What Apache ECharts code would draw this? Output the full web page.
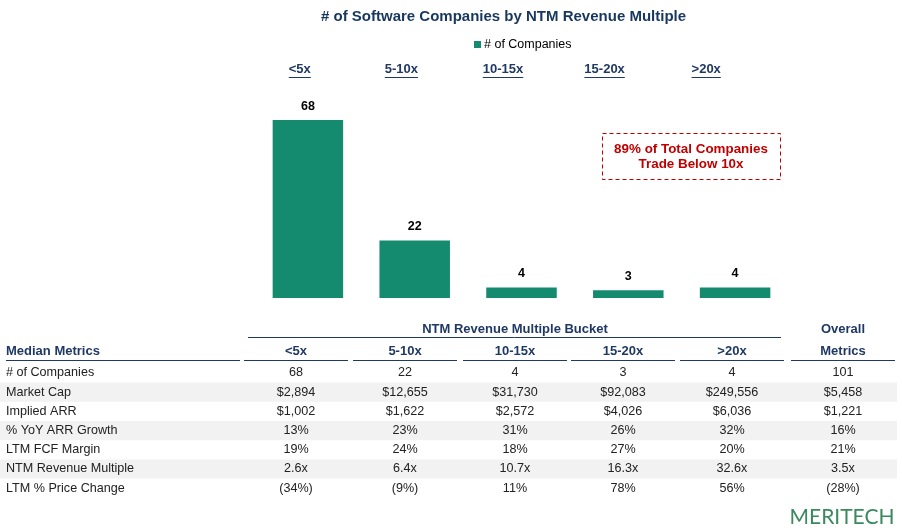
<!DOCTYPE html>
<html>
<head>
<meta charset="utf-8">
<script src="https://cdn.jsdelivr.net/npm/echarts@6/dist/echarts.min.js"></script>
<style>
  html, body { margin: 0; padding: 0; background: #fff; }
  #chart { width: 902px; height: 531px; }
</style>
</head>
<body>
<div id="chart"></div>
<script>
// data
var buckets = ['<5x', '5-10x', '10-15x', '15-20x', '>20x'];
var companyCounts = [68, 22, 4, 3, 4];

var metricNames = ['# of Companies', 'Market Cap', 'Implied ARR', '% YoY ARR Growth',
  'LTM FCF Margin', 'NTM Revenue Multiple', 'LTM % Price Change'];
var bucketMetrics = [
  ['68', '22', '4', '3', '4'],
  ['$2,894', '$12,655', '$31,730', '$92,083', '$249,556'],
  ['$1,002', '$1,622', '$2,572', '$4,026', '$6,036'],
  ['13%', '23%', '31%', '26%', '32%'],
  ['19%', '24%', '18%', '27%', '20%'],
  ['2.6x', '6.4x', '10.7x', '16.3x', '32.6x'],
  ['(34%)', '(9%)', '11%', '78%', '56%']
];
var overallMetrics = ['101', '$5,458', '$1,221', '16%', '21%', '3.5x', '(28%)'];

var navy = '#1f3864';
var green = '#148a6e';
var red = '#c00000';
var font = 'Liberation Sans, Arial, sans-serif';

var chart = echarts.init(document.getElementById('chart'));

var option = {
  animation: false,
  title: {
    text: '# of Software Companies by NTM Revenue Multiple',
    left: 316,
    top: 4,
    textStyle: { fontFamily: font, fontSize: 15, fontWeight: 'bold', color: '#17375e' }
  },
  legend: {
    data: ['# of Companies'],
    left: 469,
    top: 33,
    icon: 'rect',
    itemWidth: 7,
    itemHeight: 7,
    itemGap: 4,
    textStyle: { fontFamily: font, fontSize: 12.5, color: '#000', padding: [0, 0, 0, -2] }
  },
  grid: [
    { left: 254.5, right: 113.5, top: 88.6, bottom: 233 },
    { left: 249, width: 508, top: 80, height: 1 }
  ],
  xAxis: [
    {
      type: 'category', gridIndex: 0, data: buckets,
      axisLine: { show: false }, axisTick: { show: false }, axisLabel: { show: false }
    },
    {
      type: 'category', gridIndex: 1, data: buckets, position: 'top',
      axisLine: { show: false }, axisTick: { show: false },
      axisLabel: {
        margin: 4, fontFamily: font, fontSize: 13, fontWeight: 'bold', color: navy
      }
    }
  ],
  yAxis: [
    { type: 'value', gridIndex: 0, min: 0, max: 80, show: false, splitLine: { show: false } },
    { type: 'value', gridIndex: 1, show: false, splitLine: { show: false } }
  ],
  series: [{
    name: '# of Companies',
    type: 'bar',
    data: companyCounts,
    barWidth: '66%',
    itemStyle: { color: green },
    label: {
      show: true, position: 'top', distance: 7,
      fontFamily: font, fontSize: 12.5, fontWeight: 'bold', color: '#000'
    }
  }]
};

chart.setOption(option);

// table + annotations
var colCenters = [296, 405, 515, 623, 732, 843];
var rowTop = 373, rowStep = 19.2;
var g = [];

function txt(s, x, y, opts) {
  opts = opts || {};
  g.push({
    type: 'text', z: 10,
    style: {
      text: s, x: x, y: y,
      align: opts.align || 'center', verticalAlign: 'middle',
      font: (opts.bold ? 'bold ' : '') + (opts.size || 12.6) + 'px ' + (opts.family || font),
      fill: opts.color || '#222'
    }
  });
}
function line(x1, y1, x2, y2, color, w) {
  g.push({
    type: 'line', z: 10,
    shape: { x1: x1, y1: y1, x2: x2, y2: y2 },
    style: { stroke: color || navy, lineWidth: w || 1 }
  });
}

// shaded rows
metricNames.forEach(function (m, i) {
  if (i % 2 === 1) {
    g.push({
      type: 'rect', z: 1,
      shape: { x: 0, y: rowTop + i * rowStep - 9.6, width: 897, height: 19.2 },
      style: { fill: '#f2f2f2' }
    });
  }
});

// header
txt('NTM Revenue Multiple Bucket', 515, 329, { bold: true, color: navy, size: 13 });
line(248, 337.5, 781, 337.5);
txt('Overall', 843, 329, { bold: true, color: navy, size: 13 });
txt('Median Metrics', 6, 351, { bold: true, color: navy, align: 'left', size: 13 });
line(6, 360.5, 240, 360.5);
buckets.concat(['Metrics']).forEach(function (b, j) {
  txt(b, colCenters[j], 351, { bold: true, color: navy, size: 13 });
  line(colCenters[j] - 52, 360.5, colCenters[j] + 52, 360.5);
});

// rows
metricNames.forEach(function (m, i) {
  var y = rowTop + i * rowStep;
  txt(m, 6, y, { align: 'left' });
  bucketMetrics[i].forEach(function (v, j) {
    txt(v, colCenters[j], y);
  });
  txt(overallMetrics[i], colCenters[5], y);
});

// underline the bucket labels above the chart
var ctx = document.createElement('canvas').getContext('2d');
ctx.font = 'bold 13px ' + font;
buckets.forEach(function (b) {
  var cx = chart.convertToPixel({ xAxisIndex: 1 }, b);
  var w = ctx.measureText(b).width;
  line(cx - w / 2, 77.5, cx + w / 2, 77.5, navy, 1);
});

// callout
g.push({
  type: 'rect', z: 10,
  shape: { x: 602.5, y: 133.5, width: 178, height: 46 },
  style: { fill: 'none', stroke: red, lineWidth: 1, lineDash: [4, 3] }
});
txt('89% of Total Companies', 691, 149, { bold: true, color: red, size: 13.4 });
txt('Trade Below 10x', 691, 164, { bold: true, color: red, size: 13.4 });

// logo
txt('MERITECH', 842, 517, { size: 21, color: '#3a8a5e', family: 'Lato, sans-serif' });

chart.setOption({ graphic: g });
</script>
</body>
</html>
